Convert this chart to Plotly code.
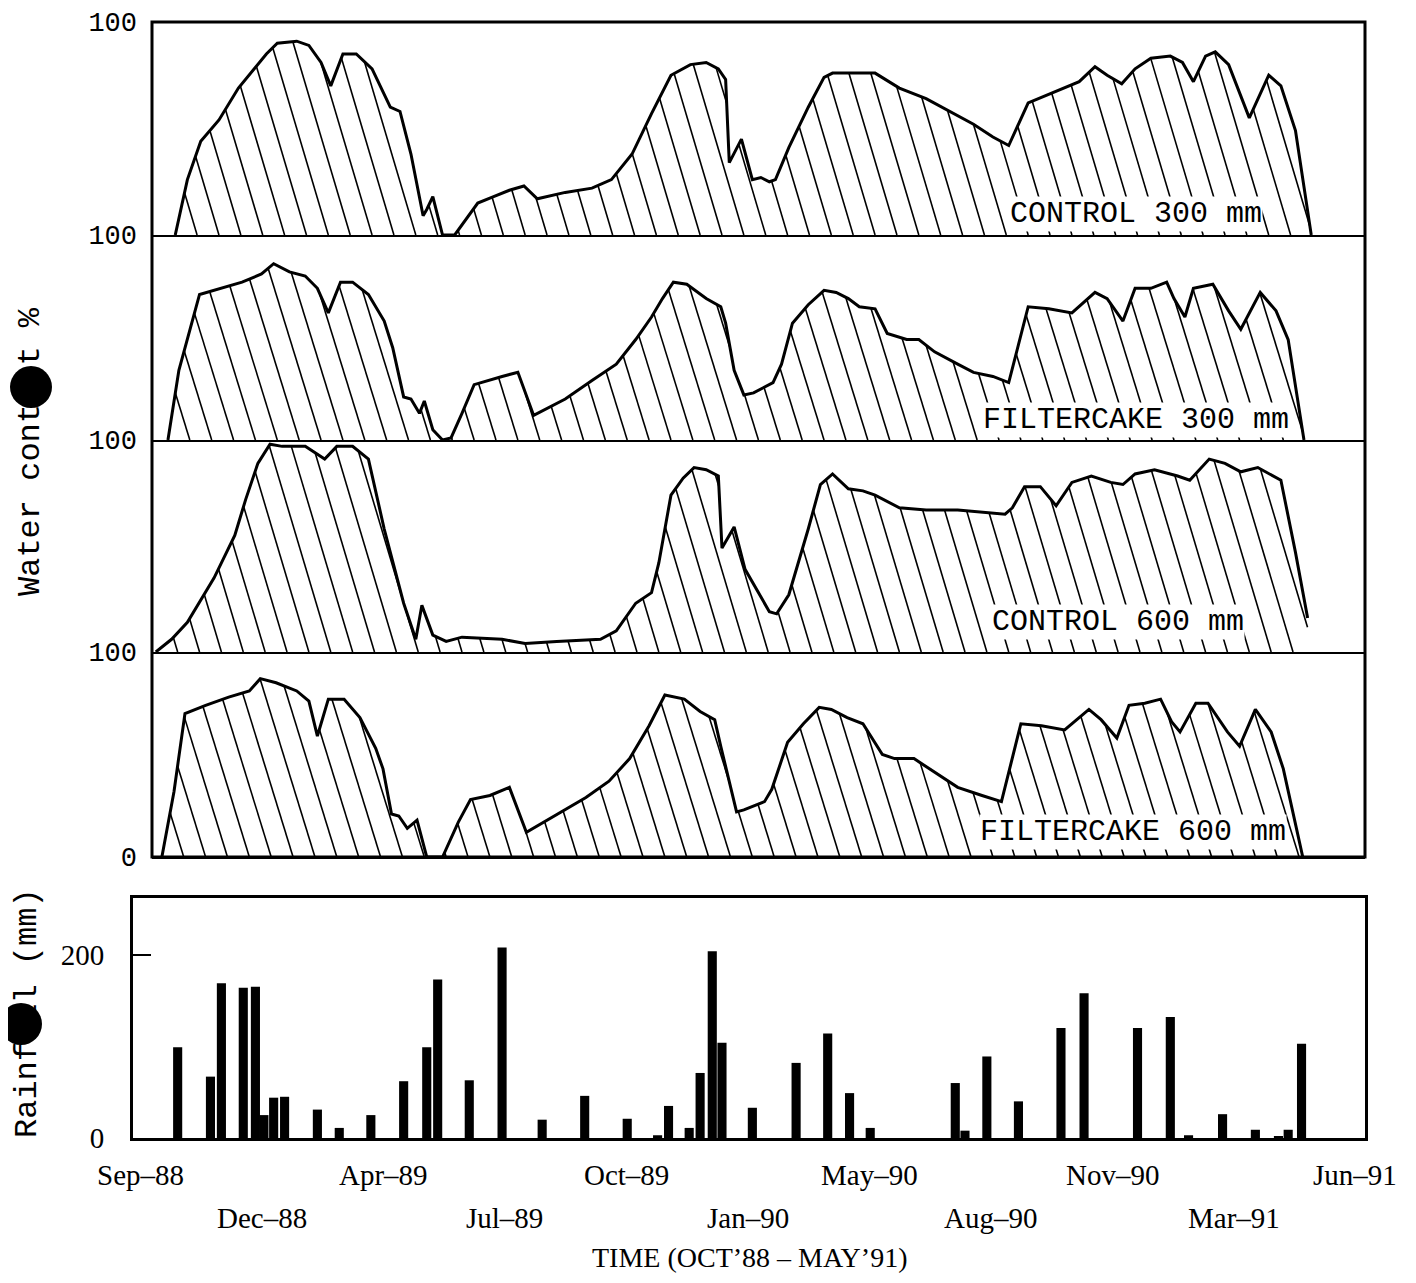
import numpy as np
import plotly.graph_objects as go

# ---------------- data ----------------
tick_labels = ["Sep–88", "Dec–88", "Apr–89", "Jul–89", "Oct–89", "Jan–90",
               "May–90", "Aug–90", "Nov–90", "Mar–91", "Jun–91"]
tick_pos = list(range(11))

ctrl300_x = [0.29, 0.39, 0.50, 0.65, 0.81, 0.91, 1.04, 1.13, 1.29, 1.39, 1.49, 1.57, 1.67, 1.78,
             1.91, 2.06, 2.14, 2.23, 2.33, 2.36, 2.41, 2.45, 2.49, 2.59, 2.78, 2.91, 3.04, 3.16,
             3.27, 3.50, 3.72, 3.88, 4.05, 4.21, 4.37, 4.53, 4.66, 4.76, 4.82, 4.85, 4.95, 5.04,
             5.11, 5.18, 5.23, 5.34, 5.50, 5.63, 5.70, 6.05, 6.25, 6.47, 6.67, 6.86, 7.02, 7.15,
             7.31, 7.48, 7.64, 7.73, 7.86, 7.96, 8.08, 8.19, 8.32, 8.48, 8.58, 8.67, 8.77, 8.85,
             8.96, 9.13, 9.29, 9.39, 9.51, 9.64]
ctrl300_y = [0, 26, 44, 54, 69, 76, 85, 90, 91, 89, 81, 70, 85, 85,
             78, 60, 58, 38, 9, 12, 18, 9, 0, 0, 15, 18, 21, 23,
             17, 20, 22, 26, 38, 57, 75, 80, 81, 78, 73, 34, 45, 26,
             27, 25, 26, 41, 60, 74, 76, 76, 69, 64, 58, 52, 46, 42,
             62, 66, 70, 72, 79, 75, 71, 78, 83, 84, 81, 72, 84, 86,
             80, 55, 75, 70, 49, 0]

filt300_x = [0.23, 0.32, 0.49, 0.61, 0.84, 1.00, 1.10, 1.23, 1.36, 1.46, 1.55, 1.65, 1.75, 1.88,
             2.01, 2.08, 2.17, 2.23, 2.30, 2.34, 2.41, 2.49, 2.56, 2.65, 2.75, 2.98, 3.11, 3.24,
             3.50, 3.72, 3.92, 4.08, 4.21, 4.30, 4.39, 4.50, 4.66, 4.78, 4.82, 4.89, 4.97, 5.05,
             5.21, 5.28, 5.37, 5.50, 5.63, 5.73, 5.83, 5.92, 6.05, 6.15, 6.31, 6.41, 6.54, 6.73,
             6.86, 7.02, 7.15, 7.31, 7.48, 7.67, 7.86, 7.96, 8.09, 8.19, 8.32, 8.45, 8.51, 8.60,
             8.67, 8.83, 8.96, 9.06, 9.22, 9.35, 9.45, 9.58]
filt300_y = [0, 34, 71, 73, 77, 81, 86, 82, 80, 74, 62, 77, 77, 71,
             58, 45, 21, 20, 13, 19, 5, 0, 1, 13, 27, 31, 33, 12,
             20, 29, 37, 49, 60, 69, 77, 76, 69, 65, 57, 34, 22, 23,
             28, 37, 57, 66, 73, 72, 69, 65, 64, 52, 49, 49, 43, 37,
             33, 31, 28, 65, 64, 62, 72, 69, 58, 74, 74, 77, 69, 60,
             74, 76, 63, 54, 72, 63, 49, 0]

ctrl600_x = [0.13, 0.26, 0.39, 0.61, 0.78, 0.87, 0.97, 1.07, 1.17, 1.36, 1.52, 1.62, 1.75, 1.88,
             2.01, 2.17, 2.27, 2.32, 2.41, 2.52, 2.65, 2.98, 3.17, 3.43, 3.79, 3.92, 4.08, 4.21,
             4.27, 4.37, 4.47, 4.56, 4.66, 4.76, 4.79, 4.89, 4.98, 5.18, 5.24, 5.34, 5.50, 5.60,
             5.70, 5.83, 5.95, 6.05, 6.25, 6.47, 6.73, 6.93, 7.12, 7.18, 7.28, 7.41, 7.54, 7.67,
             7.83, 7.99, 8.09, 8.19, 8.35, 8.54, 8.64, 8.80, 8.93, 9.06, 9.20, 9.39, 9.51, 9.61]
ctrl600_y = [0, 6, 14, 35, 55, 72, 89, 98, 97, 97, 91, 97, 97, 91,
             58, 23, 6, 22, 8, 5, 7, 6, 4, 5, 6, 10, 23, 28,
             42, 74, 82, 87, 86, 83, 49, 59, 39, 19, 18, 27, 58, 79,
             84, 77, 76, 74, 68, 67, 67, 66, 65, 68, 78, 78, 69, 80,
             83, 80, 79, 84, 86, 83, 81, 91, 89, 85, 87, 81, 47, 16]

filt600_x = [0.18, 0.28, 0.37, 0.54, 0.73, 0.90, 0.99, 1.12, 1.29, 1.39, 1.46, 1.55, 1.68, 1.81,
             1.94, 2.00, 2.07, 2.13, 2.20, 2.28, 2.36, 2.49, 2.62, 2.72, 2.88, 3.04, 3.18, 3.44,
             3.67, 3.86, 4.03, 4.19, 4.32, 4.48, 4.61, 4.73, 4.78, 4.91, 4.97, 5.14, 5.20, 5.33,
             5.46, 5.59, 5.69, 5.82, 5.95, 6.11, 6.21, 6.37, 6.57, 6.73, 6.93, 7.09, 7.25, 7.42,
             7.61, 7.81, 7.91, 8.04, 8.14, 8.27, 8.40, 8.49, 8.56, 8.69, 8.79, 8.95, 9.05, 9.18,
             9.31, 9.41, 9.57]
filt600_y = [0, 32, 70, 74, 78, 81, 87, 85, 81, 76, 59, 77, 77, 68,
             53, 43, 21, 20, 14, 18, 0, 0, 17, 28, 30, 34, 12, 21,
             29, 37, 48, 64, 79, 77, 71, 67, 54, 22, 23, 27, 33, 56,
             65, 73, 72, 68, 65, 50, 48, 48, 40, 34, 30, 27, 65, 64,
             62, 72, 67, 58, 74, 75, 77, 66, 61, 75, 75, 61, 54, 72,
             61, 43, 0]

panel_names = ["CONTROL 300 mm", "FILTERCAKE 300 mm", "CONTROL 600 mm", "FILTERCAKE 600 mm"]

rain_x = [0.31, 0.58, 0.67, 0.85, 0.95, 1.02, 1.10, 1.19, 1.46, 1.64, 1.90, 2.17, 2.36, 2.45,
          2.71, 2.98, 3.31, 3.66, 4.01, 4.26, 4.35, 4.52, 4.61, 4.71, 4.79, 5.04, 5.40, 5.66,
          5.84, 6.01, 6.71, 6.79, 6.97, 7.23, 7.58, 7.77, 8.21, 8.48, 8.63, 8.91, 9.18, 9.37,
          9.45, 9.56]
rain_mm = [99, 67, 169, 164, 165, 25, 44, 45, 31, 11, 25, 62, 99, 173,
           63, 208, 20, 46, 21, 3, 35, 11, 71, 204, 104, 33, 82, 114,
           49, 11, 60, 8, 89, 40, 120, 158, 120, 132, 3, 26, 9, 2,
           9, 103]

# ---------------- layout geometry (target-image pixels) ----------------
OFF = 8                      # page body margin
W, H = 1416 - 2 * OFF, 1283 - 2 * OFF
PX0, PXU = 140.0, 121.5      # pixel of tick 0, pixels per tick step
TOP_L, RIGHT = 152, 1365
BOT_L = 133
PANEL_Y = [22, 235, 440, 652, 857]
RAIN_T, RAIN_B = 898, 1138


def fx(px):
    return (px - OFF) / W


def fy(py):
    return 1 - (py - OFF) / H


def xr(px):
    return (px - PX0) / PXU


MONO = "Liberation Mono"
SERIF = "Liberation Serif"


def hatch(xs, ys, spacing=0.18, shift=0.52, n=600):
    xs = np.asarray(xs, float)
    ys = np.asarray(ys, float)
    yy = np.linspace(0, 100, n)
    hx, hy = [], []
    for c in np.arange(xs.min() - shift, xs.max() + spacing, spacing):
        xx = c + (100 - yy) / 100 * shift
        f = np.interp(xx, xs, ys, left=0, right=0)
        inside = (yy < f).astype(int)
        edges = np.flatnonzero(np.diff(np.concatenate(([0], inside, [0]))))
        for a, b in zip(edges[::2], edges[1::2]):
            if b - a < 4:
                continue
            hx += [float(xx[a]), float(xx[b - 1]), None]
            hy += [float(yy[a]), float(yy[b - 1]), None]
    return hx, hy


fig = go.Figure()
series = [(ctrl300_x, ctrl300_y), (filt300_x, filt300_y),
          (ctrl600_x, ctrl600_y), (filt600_x, filt600_y)]

layout = dict(
    width=W, height=H, paper_bgcolor="white", plot_bgcolor="rgba(0,0,0,0)",
    margin=dict(l=0, r=0, t=0, b=0, autoexpand=False), showlegend=False,
)

for i, (xs, ys) in enumerate(series):
    k = i + 1
    xa = "x" if k == 1 else f"x{k}"
    ya = "y" if k == 1 else f"y{k}"
    hx, hy = hatch(xs, ys)
    fig.add_trace(go.Scatter(x=hx, y=hy, mode="lines", xaxis=xa, yaxis=ya,
                             line=dict(color="black", width=1.6), hoverinfo="skip"))
    fig.add_trace(go.Scatter(x=xs, y=ys, mode="lines", xaxis=xa, yaxis=ya,
                             line=dict(color="black", width=3), hoverinfo="skip"))
    key = "" if k == 1 else str(k)
    layout["xaxis" + key] = dict(
        domain=[fx(TOP_L), fx(RIGHT)], range=[xr(TOP_L), xr(RIGHT)], anchor=ya,
        showgrid=False, zeroline=False, showticklabels=False, ticks="", automargin=False,
        showline=True, linecolor="black", linewidth=2.2,
    )
    tv = [0, 100] if k == 4 else [100]
    layout["yaxis" + key] = dict(
        domain=[fy(PANEL_Y[i + 1]), fy(PANEL_Y[i])], range=[0, 100], anchor=xa,
        showgrid=False, zeroline=False, showline=False, ticks="", automargin=False,
        tickvals=tv, ticktext=[str(v) for v in tv],
        tickfont=dict(family=MONO, size=27, color="black"), ticklabelstandoff=14,
    )

fig.add_trace(go.Bar(x=rain_x, y=rain_mm, width=0.075, xaxis="x5", yaxis="y5",
                     marker=dict(color="black", line=dict(width=0)), hoverinfo="skip"))

layout["xaxis5"] = dict(
    domain=[fx(BOT_L), fx(RIGHT)], range=[xr(BOT_L), xr(RIGHT)], anchor="y5",
    showgrid=False, zeroline=False, showticklabels=False, ticks="", automargin=False,
    showline=True, mirror=True, linecolor="black", linewidth=3,
)
layout["yaxis5"] = dict(
    domain=[fy(RAIN_B), fy(RAIN_T)], range=[0, 262], anchor="x5",
    showgrid=False, zeroline=False, showline=True, mirror=True, automargin=False,
    linecolor="black", linewidth=3,
    tickvals=[0, 200], ticktext=["0", "200"], ticks="inside", ticklen=18, tickwidth=2,
    tickcolor="black", tickfont=dict(family=SERIF, size=29, color="black"),
    ticklabelstandoff=20,
)

shapes = [dict(type="rect", xref="paper", yref="paper",
               x0=fx(TOP_L), x1=fx(RIGHT), y0=fy(PANEL_Y[4]), y1=fy(PANEL_Y[0]),
               line=dict(color="black", width=3))]
# scan blots over the axis titles
for cx, cy, r in [(31, 387, 21), (21, 1024, 21)]:
    shapes.append(dict(type="circle", xref="paper", yref="paper",
                       x0=fx(cx - r), x1=fx(cx + r), y0=fy(cy + r), y1=fy(cy - r),
                       fillcolor="black", line=dict(color="black", width=0)))

annotations = []
label_pos = [(1263, 10), (1290, 10), (1245, 14), (1287, 12)]
for i, name in enumerate(panel_names):
    k = i + 1
    xa = "x" if k == 1 else f"x{k}"
    ya = "y" if k == 1 else f"y{k}"
    annotations.append(dict(
        text=name, x=xr(label_pos[i][0]), y=label_pos[i][1], xref=xa, yref=ya,
        xanchor="right", yanchor="middle", showarrow=False, bgcolor="white",
        font=dict(family=MONO, size=30, color="black"), borderpad=0))

for i, lab in enumerate(tick_labels):
    annotations.append(dict(
        text=lab, x=tick_pos[i], xref="x5", y=fy(1175 if i % 2 == 0 else 1218), yref="paper",
        xanchor="center", yanchor="middle", showarrow=False,
        font=dict(family=SERIF, size=29, color="black")))

annotations.append(dict(
    text="TIME (OCT’88 – MAY’91)", x=fx(750), y=fy(1274), xref="paper", yref="paper",
    xanchor="center", yanchor="bottom", showarrow=False, borderpad=0,
    font=dict(family=SERIF, size=28, color="black")))

annotations.append(dict(
    text="Water content %", x=fx(31), y=fy(452),
    xref="paper", yref="paper", textangle=-90, xanchor="center", yanchor="middle",
    showarrow=False, font=dict(family=MONO, size=32, color="black")))

annotations.append(dict(
    text="Rainfall (mm)", x=fx(27), y=fy(1013),
    xref="paper", yref="paper", textangle=-90, xanchor="center", yanchor="middle",
    showarrow=False, font=dict(family=MONO, size=32, color="black")))

layout["shapes"] = shapes
layout["annotations"] = annotations
fig.update_layout(**layout)

fig.write_html("out.html")
